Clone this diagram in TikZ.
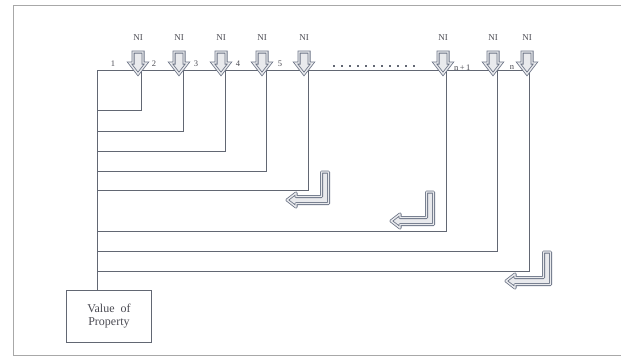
\documentclass[tikz,border=0pt]{standalone}
\usepackage{fontspec}
\setmainfont{Liberation Serif}
\definecolor{ln}{HTML}{626773}
\definecolor{arr}{HTML}{6A7284}
\definecolor{frm}{HTML}{A8A8A8}
\definecolor{txt}{HTML}{4A4A52}
\begin{document}
\begin{tikzpicture}[x=1pt,y=-1pt,
  wire/.style={draw=ln,line width=1pt},
  blockarrow/.style={draw=arr,line width=0.8pt,double=white!85!arr,double distance=1.4pt,fill=white!85!arr,line join=miter},
  nilabel/.style={font=\fontsize{9}{10}\selectfont,text=txt,inner sep=0pt},
  numlabel/.style={font=\fontsize{8.5}{9}\selectfont,text=txt,inner sep=0pt},
  valbox/.style={draw=ln,line width=0.9pt,align=center,font=\fontsize{12}{13}\selectfont,text=txt,inner sep=0pt,minimum width=85pt,minimum height=52pt}]
\useasboundingbox (0,0) rectangle (621,357);
% frame
\draw[frm,line width=1pt] (622,5) -- (13,5) -- (13,355) -- (622,355);
% value box
\node[valbox,anchor=north west] (val) at (66,290) {Value \ of\\Property};
% main line coordinates
\coordinate (L0) at (97,70);
\coordinate (Lend) at (531,70);
\coordinate (B) at (97,290);
\draw[wire] (Lend) -- (L0) -- (B);
% drop lines and loops
\foreach \i/\x/\y in {1/141/110,2/183/131,3/225/151,4/266/171,5/308/190,6/446/231,7/497/251,8/529/271}{
  \coordinate (t\i) at (\x,70);
  \coordinate (c\i) at (\x,\y);
  \coordinate (l\i) at (97,\y);
  \draw[wire] (t\i) -- (c\i) -- (l\i);
}
% dots
\foreach \k in {0,...,10}{
  \fill[ln] (334+\k*8-1.2,66-1.2) rectangle ++(2.4,2.4);
}
% down block arrows and NI labels
\foreach \j/\c in {1/138,2/179,3/221,4/262,5/304,6/443,7/493,8/527}{
  \draw[blockarrow] (\c-5,52) -- (\c+5,52) -- (\c+5,63) -- (\c+8.5,63) -- (\c,74) -- (\c-8.5,63) -- (\c-5,63) -- cycle;
  \node[nilabel] (ni\j) at (\c,38) {NI};
}
% number labels
\node[numlabel] (n1) at (113,64) {1};
\node[numlabel] (n2) at (154,64) {2};
\node[numlabel] (n3) at (196,64) {3};
\node[numlabel] (n4) at (238,64) {4};
\node[numlabel] (n5) at (280,64) {5};
\node[numlabel,anchor=west] (nn1) at (454,68) {n\,+\,1};
\node[numlabel] (nn) at (512,67) {n};
% L-shaped hollow arrows
\foreach \cx/\cy/\yt/\xt in {325/200/172/287, 430/221/192/391, 547/281/252/506}{
  \draw[blockarrow,line join=round] (\cx-3.5,\yt) -- (\cx+3.5,\yt) -- (\cx+3.5,\cy+3.5) -- (\xt+9,\cy+3.5) -- (\xt+9,\cy+7) -- (\xt,\cy) -- (\xt+9,\cy-7) -- (\xt+9,\cy-3.5) -- (\cx-3.5,\cy-3.5) -- cycle;
}
\end{tikzpicture}
\end{document}
